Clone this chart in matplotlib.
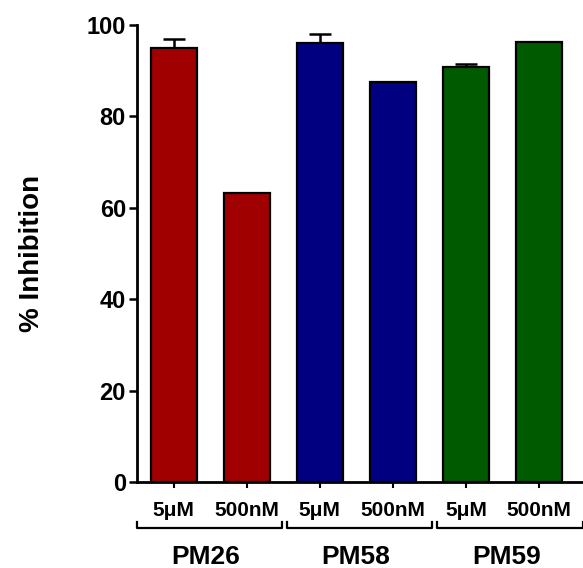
import matplotlib
matplotlib.use("Agg")
import matplotlib.pyplot as plt
from matplotlib.transforms import blended_transform_factory

compounds = ["PM26", "PM58", "PM59"]
doses = ["5\u03bcM", "500nM"]
values = [95.0, 63.2, 96.0, 87.6, 90.9, 96.2]
errors = [1.9, 0.0, 2.0, 0.0, 0.6, 0.0]
colors = ["#A00000", "#A00000", "#000080", "#000080", "#005A00", "#005A00"]
yticks = [0, 20, 40, 60, 80, 100]

plt.rcParams['font.family'] = ['Liberation Sans', 'DejaVu Sans']
plt.rcParams['font.weight'] = 'bold'

W, H = 583, 568
fig = plt.figure(figsize=(W / 100, H / 100), dpi=100)
ax = fig.add_axes([137 / W, (H - 482) / H, (583 - 137) / W, (482 - 25) / H])

x = list(range(len(values)))
ax.bar(x, values, width=0.63, color=colors, edgecolor="black", linewidth=1.6, zorder=2)
for xi, v, e in zip(x, values, errors):
    if e > 0:
        ax.errorbar(xi, v, yerr=[[0], [e]], fmt="none", ecolor="black",
                    elinewidth=1.8, capsize=8, capthick=1.8, zorder=1)

ax.set_xlim(-0.5, 5.6)
ax.set_ylim(0, 100)
ax.set_yticks(yticks)
ax.set_yticklabels([str(t) for t in yticks], fontsize=17, fontweight='bold')
ax.set_xticks(x)
ax.set_xticklabels([doses[i % 2] for i in x], fontsize=15, fontweight='bold')
ax.tick_params(axis='x', length=4, width=1.5, pad=10)
ax.tick_params(axis='y', length=6, width=1.8, pad=2)
for s in ["top", "right"]:
    ax.spines[s].set_visible(False)
for s in ["left", "bottom"]:
    ax.spines[s].set_linewidth(2)

ax.set_ylabel("% Inhibition", fontsize=20, fontweight='bold', labelpad=30)

trans = blended_transform_factory(ax.transData, fig.transFigure)
yb = 1 - 528 / H
yt = 1 - 522 / H
brackets = [(-0.5, 1.49), (1.55, 3.53), (3.6, 5.6)]
for (a, b), name in zip(brackets, compounds):
    ax.plot([a, a, b, b], [yt, yb, yb, yt], color="black", lw=1.6,
            transform=trans, clip_on=False)
    ax.text((a + b) / 2 - 0.05, 1 - 564 / H, name, transform=trans,
            ha="center", va="baseline", fontsize=19, fontweight='bold')

fig.savefig("out.png", dpi=100)
